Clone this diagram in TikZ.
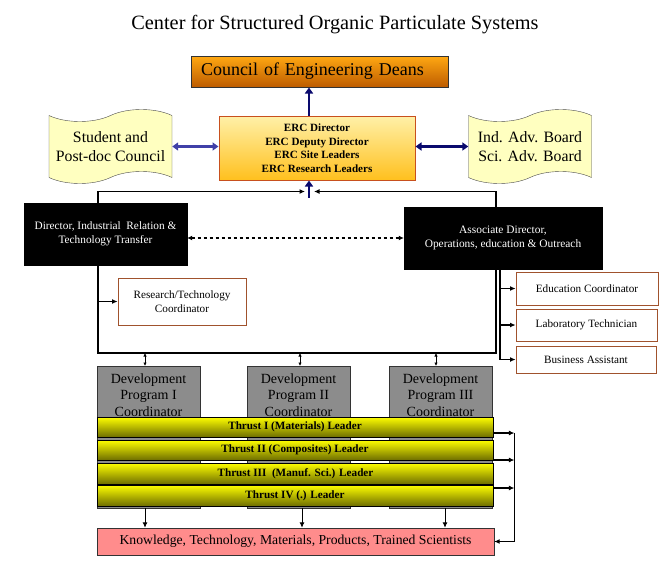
\documentclass[tikz,border=0pt]{standalone}
\usepackage{fontspec}
\setmainfont{Liberation Serif}
\usetikzlibrary{arrows.meta,shapes.symbols}
\definecolor{deanstop}{HTML}{FFA812}
\definecolor{deansbot}{HTML}{BE5C00}
\definecolor{erctop}{HTML}{FFF0A8}
\definecolor{ercbot}{HTML}{FFC01E}
\definecolor{ercedge}{HTML}{C8501E}
\definecolor{scrollyel}{HTML}{FFFFC0}
\definecolor{cbrown}{HTML}{A0522D}
\definecolor{devgray}{HTML}{8C8C8C}
\definecolor{thrbot}{HTML}{6E6E00}
\definecolor{knowpink}{HTML}{FF8C8C}
\definecolor{lblue}{HTML}{4040A8}
\definecolor{dblue}{HTML}{0A0A6E}

\begin{document}
\begin{tikzpicture}[x=1pt, y=-1pt,
    scroll/.style={draw=black!70, fill=scrollyel, tape, tape bend height=12pt, minimum width=123pt, minimum height=74pt, inner sep=0pt, align=center, font=\fontsize{15.8}{19}\selectfont},
    blk/.style={draw, fill=black, text=white, minimum height=62pt, align=center, font=\fontsize{11.3}{14}\selectfont},
    coord/.style={draw=cbrown, fill=white, line width=0.9pt, inner sep=0pt, align=center, font=\fontsize{11.2}{13.5}\selectfont},
    dev/.style={draw=black!80, fill=devgray, minimum width=103pt, minimum height=142pt, anchor=north},
    devtxt/.style={anchor=north, yshift=-4pt, align=center, font=\fontsize{14}{16.5}\selectfont},
    thr/.style={draw=black, line width=0.8pt, top color=yellow, middle color=yellow, bottom color=thrbot, minimum width=396pt, minimum height=20pt, inner sep=0pt, font=\bfseries\fontsize{11.2}{12}\selectfont},
    arr/.style={-{Latex[length=5.5pt,width=5pt]}, line width=1.2pt},
    sarr/.style={{Latex[length=3.5pt,width=3.5pt]}-{Latex[length=3.5pt,width=3.5pt]}, line width=0.8pt},
    blu/.style={line width=2.6pt, draw=#1},
    tri/.style={-{Triangle[length=6pt,width=8pt]}}]
  \useasboundingbox (0,0) rectangle (670,581);
  \node[font=\fontsize{20.3}{22}\selectfont] (title) at (335,25) {Center for Structured Organic Particulate Systems};

  \node[draw=black!80, line width=1pt, top color=deanstop, bottom color=deansbot, minimum width=257pt, minimum height=31pt, text width=237pt, inner xsep=10pt, align=left, font=\fontsize{18}{20}\selectfont] (deans) at (319.5,71.5) {Council of Engineering Deans};
  \node[draw=ercedge, line width=1pt, top color=erctop, bottom color=ercbot, minimum width=196pt, minimum height=64pt, align=center, font=\bfseries\fontsize{11.1}{13.5}\selectfont] (erc) at (317,148) {ERC Director\\ERC Deputy Director\\ERC Site Leaders\\ERC Research Leaders};
  \node[scroll] (stud) at (110.5,146.5) {Student and\\Post-doc Council};
  \node[scroll] (board) at (530,146.5) {Ind. Adv. Board\\Sci. Adv. Board};

  \node[blk, minimum width=163pt] (dir) at (105.5,234) {Director, Industrial\ \ Relation \&\\Technology Transfer};
  \node[blk, minimum width=198pt, font=\fontsize{11.4}{13.5}\selectfont] (assoc) at (503,238) {Associate Director,\\Operations, education \& Outreach};

  \node[coord, minimum width=128pt, minimum height=47pt] (rtc) at (182,301.5) {Research/Technology\\Coordinator};
  \node[coord, minimum width=142pt, minimum height=33pt] (edu) at (587,288.5) {Education Coordinator};
  \node[coord, minimum width=141pt, minimum height=32pt] (lab) at (586.5,325) {Laboratory Technician};
  \node[coord, minimum width=140pt, minimum height=27pt] (bus) at (586,359.5) {Business Assistant};

  % development programs
  \node[dev, label={[devtxt]north:Development\\Program I\\Coordinator}] (dev1) at (148.5,366) {};
  \node[dev, label={[devtxt]north:Development\\Program II\\Coordinator}] (dev2) at (298.5,366) {};
  \node[dev, label={[devtxt]north:Development\\Program III\\Coordinator}] (dev3) at (440.5,366) {};

  % thrusts
  \node[thr] (t1) at (295,427) {Thrust I (Materials) Leader};
  \node[thr] (t2) at (295,450) {Thrust II (Composites) Leader};
  \node[thr, minimum height=21pt] (t3) at (295.5,473.5) {Thrust III\ \ (Manuf. Sci.) Leader};
  \node[thr, minimum height=21pt] (t4) at (295,495.5) {Thrust IV (.) Leader};

  \node[draw=black!80, fill=knowpink, minimum width=397pt, minimum height=27pt, font=\fontsize{13.7}{16}\selectfont] (know) at (295.5,541.5) {Knowledge, Technology, Materials, Products, Trained Scientists};

  % top block arrows
  \draw[blu=dblue, tri] ([xshift=-8pt]erc.north) -- ([xshift=-8pt]erc.north |- deans.south);
  \draw[blu=lblue, {Triangle[length=6pt,width=8pt]}-{Triangle[length=6pt,width=8pt]}] (stud.east) -- (stud.east -| erc.west);
  \draw[blu=dblue, {Triangle[length=6pt,width=8pt]}-{Triangle[length=6pt,width=8pt]}] (board.west -| erc.east) -- (board.west);

  % reporting lines
  \coordinate (hub) at ([xshift=-8pt,yshift=-11pt]erc.south);
  \draw[arr] ([xshift=-7.5pt]dir.north) |- ([xshift=-4pt]hub);
  \draw[arr] ([xshift=-7pt]assoc.north) |- ([xshift=5pt]hub);
  \draw[blu=dblue, tri] ([yshift=-6pt]hub) -- ([xshift=-8pt]erc.south);
  \draw[dashed, {Latex[length=5pt,width=5pt]}-{Latex[length=5pt,width=5pt]}, line width=1.2pt] (assoc.west -| dir.east) -- (assoc.west);

  \coordinate (bl) at (98,353); \coordinate (br) at (496,353);
  \draw[line width=1.2pt] ([xshift=-7.5pt]dir.south) |- (br) -- ([xshift=-7pt]assoc.south);
  \draw[arr] (rtc.west -| bl) -- (rtc.west);
  \coordinate (ab) at ([xshift=-3pt]assoc.south);
  \draw[line width=1.2pt] (ab) -- (ab |- bus.west);
  \foreach \b in {edu,lab,bus} \draw[arr] (ab |- \b.west) -- (\b.west);

  \foreach \d/\s in {dev1/-3.5,dev2/1.5,dev3/-4.5} \draw[sarr] ([xshift=\s pt]\d.north |- br) -- ([xshift=\s pt]\d.north);
  \foreach \d/\s in {dev1/-3.5,dev2/3.5,dev3/4.5} \draw[arr, line width=0.9pt] ([xshift=\s pt]\d.south) -- ([xshift=\s pt]\d.south |- know.north);

  % thrust outputs
  \coordinate (rt) at ([xshift=21pt,yshift=-6pt]t1.east);
  \draw[arr] (rt) |- (know.east);
  \draw[arr] ([yshift=-6pt]t1.east) -- (rt);
  \draw[arr] ([yshift=-10pt]t2.east) -- ([yshift=-10pt]t2.east -| rt);
  \draw[arr] ([yshift=7.5pt]t4.east) -- ([yshift=7.5pt]t4.east -| rt);
\end{tikzpicture}
\end{document}
